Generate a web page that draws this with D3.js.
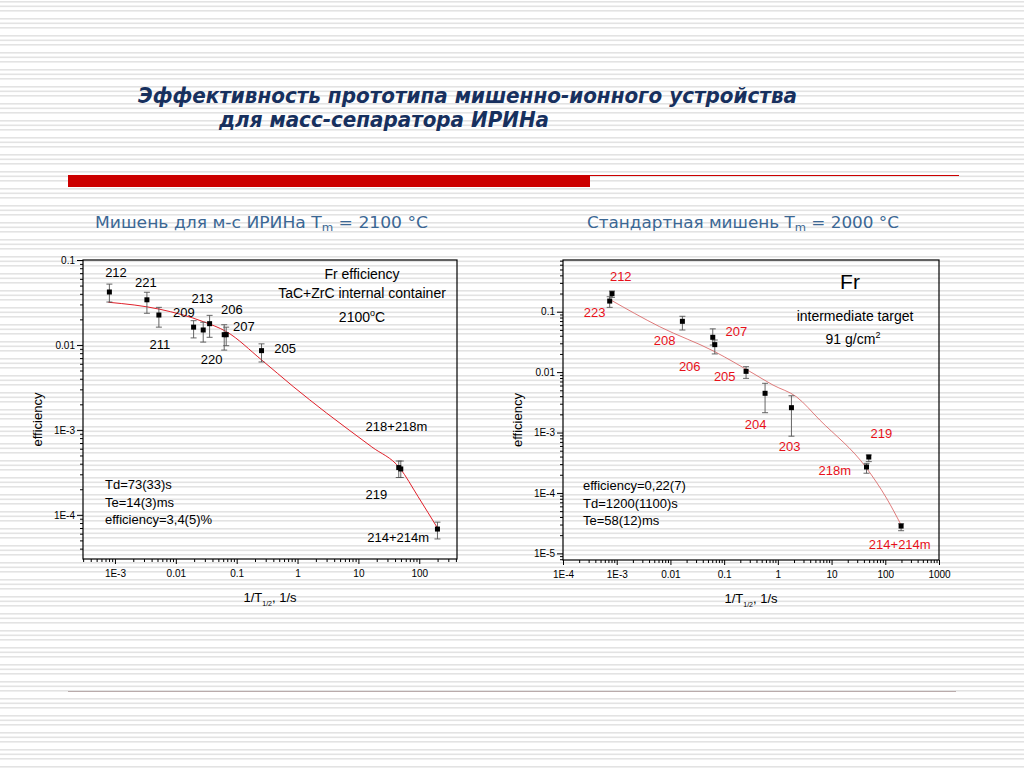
<!DOCTYPE html>
<html>
<head>
<meta charset="utf-8">
<script src="https://cdn.jsdelivr.net/npm/d3@7"></script>
<style>
  body { margin: 0; background: #fff; }
</style>
</head>
<body>
<div id="chart"></div>
<script>
// left panel: ИРИНа target, Tm = 2100 C
const leftX  = [8.1e-4, 3.35e-3, 5.27e-3, 0.0196, 0.0282, 0.0359, 0.0624, 0.0673, 0.256, 46, 49.7, 199];
const leftY  = [0.042, 0.034, 0.0225, 0.0162, 0.015, 0.0178, 0.0132, 0.0132, 0.00857, 3.6e-4, 3.47e-4, 6.8e-5];
const leftHi = [0.052, 0.0417, 0.0277, 0.0193, 0.0185, 0.0223, 0.0173, 0.0162, 0.0103, 4.3e-4, 4.3e-4, 8.2e-5];
const leftLo = [0.032, 0.0236, 0.0162, 0.0121, 0.0108, 0.0123, 0.0087, 0.0098, 0.0063, 2.75e-4, 2.75e-4, 5.2e-5];
const leftFitX = [7.8e-4, 5.48e-3, 0.0282, 0.0682, 0.256, 0.847, 2.99, 16.6, 47.9, 95.5, 199];
const leftFitY = [0.0318, 0.0263, 0.0188, 0.0143, 0.00667, 0.00324, 0.00158, 6.3e-4, 3.55e-4, 1.64e-4, 7.0e-5];
const leftLabels = ["212", "221", "213", "209", "206", "207", "211", "220", "205", "218+218m", "219", "214+214m"];
const leftLabelX = [1.04e-3, 3.23e-3, 0.0272, 0.0136, 0.0834, 0.131, 5.48e-3, 0.0387, 0.625, 42.3, 19.8, 44.9];
const leftLabelY = [0.071, 0.055, 0.0354, 0.024, 0.0263, 0.0164, 0.01, 0.00667, 0.00914, 1.09e-3, 1.72e-4, 5.4e-5];
const leftXTicks = [1e-3, 1e-2, 0.1, 1, 10, 100];
const leftYTicks = [0.1, 0.01, 1e-3, 1e-4];

// right panel: standard target, Tm = 2000 C
const rightX  = [7.4e-4, 8.17e-4, 0.0167, 0.0614, 0.0669, 0.256, 0.578, 1.79, 44.7, 49.3, 197];
const rightY  = [0.150, 0.199, 0.0693, 0.0377, 0.0285, 0.0103, 0.00446, 0.00258, 2.69e-4, 3.93e-4, 2.83e-5];
const rightHi = [0.177, 0.22, 0.084, 0.052, 0.034, 0.0123, 0.00653, 0.00406, 3.09e-4, 4.25e-4, 3.09e-5];
const rightLo = [0.118, 0.173, 0.0498, 0.0281, 0.02, 0.00788, 0.00213, 8.7e-4, 2.12e-4, 3.3e-4, 2.37e-5];
const rightFitX = [7.4e-4, 6.3e-3, 0.0669, 0.345, 0.814, 2.22, 6.03, 44.7, 105, 197];
const rightFitY = [0.16, 0.0565, 0.0218, 0.00955, 0.0061, 0.0039, 1.61e-3, 2.58e-4, 8.24e-5, 2.95e-5];
const rightLabels = ["212", "223", "208", "207", "206", "205", "204", "203", "219", "218m", "214+214m"];
const rightLabelX = [1.19e-3, 3.89e-4, 7.83e-3, 0.169, 0.0229, 0.1026, 0.387, 1.66, 84.9, 11.5, 186];
const rightLabelY = [0.39, 0.0977, 0.034, 0.0467, 0.0126, 0.0084, 1.38e-3, 5.82e-4, 9.7e-4, 2.39e-4, 1.41e-5];
const rightXTicks = [1e-4, 1e-3, 1e-2, 0.1, 1, 10, 100, 1000];
const rightYTicks = [0.1, 0.01, 1e-3, 1e-4, 1e-5];

const W = 1024, H = 768;
const font = "Liberation Sans, Arial, sans-serif";

const svg = d3.select("#chart").append("svg")
  .attr("width", W).attr("height", H);

// striped slide background
const pat = svg.append("defs").append("pattern")
  .attr("id", "stripes").attr("patternUnits", "userSpaceOnUse")
  .attr("width", 20).attr("height", 17);
pat.append("rect").attr("width", 20).attr("height", 17).attr("fill", "#fff");
[1, 5.5, 10].forEach(y => pat.append("rect")
  .attr("y", y).attr("width", 20).attr("height", 1.6).attr("fill", "#e3e3e3"));
svg.append("rect").attr("width", W).attr("height", H).attr("fill", "url(#stripes)");

// title
svg.append("text").attr("x", 138).attr("y", 103)
  .attr("textLength", 659).attr("lengthAdjust", "spacingAndGlyphs")
  .style("font", "italic bold 21px 'DejaVu Sans', sans-serif").attr("fill", "#17305e")
  .text("Эффективность прототипа мишенно-ионного устройства");
svg.append("text").attr("x", 219).attr("y", 127)
  .attr("textLength", 330).attr("lengthAdjust", "spacingAndGlyphs")
  .style("font", "italic bold 21px 'DejaVu Sans', sans-serif").attr("fill", "#17305e")
  .text("для масс-сепаратора ИРИНа");

svg.append("rect").attr("x", 68).attr("y", 175).attr("width", 522).attr("height", 12).attr("fill", "#cc0000");
svg.append("line").attr("x1", 590).attr("x2", 959).attr("y1", 175.5).attr("y2", 175.5)
  .attr("stroke", "#cc0000").attr("stroke-width", 1);
svg.append("line").attr("x1", 68).attr("x2", 956).attr("y1", 691.5).attr("y2", 691.5)
  .attr("stroke", "#b9abab").attr("stroke-width", 1.2);

// panel subtitles
function subtitle(x, len, before, after) {
  const t = svg.append("text").attr("x", x).attr("y", 228)
    .attr("textLength", len).attr("lengthAdjust", "spacingAndGlyphs")
    .style("font", "16px 'DejaVu Sans', sans-serif").attr("fill", "#3b6794");
  t.append("tspan").text(before);
  t.append("tspan").attr("dy", 3).style("font-size", "11px").text("m");
  t.append("tspan").attr("dy", -3).text(after);
}
subtitle(95, 333, "Мишень для м-с ИРИНа T", " = 2100 °C");
subtitle(587, 312, "Стандартная мишень T", " = 2000 °C");

function fmt(v) {
  const e = Math.round(Math.log10(v));
  return e >= -2 ? String(+v.toPrecision(1)) : "1E" + e;
}

function drawPanel(p) {
  const x = d3.scaleLog().domain(p.xDomain).range([p.x0, p.x1]);
  const y = d3.scaleLog().domain(p.yDomain).range([p.y1, p.y0]);
  const g = svg.append("g");
  const isMajor = v => Math.abs(Math.log10(v) - Math.round(Math.log10(v))) < 1e-6;

  // minor ticks
  g.append("g").attr("transform", `translate(${p.x0},0)`)
    .call(d3.axisLeft(y).tickValues(y.ticks().filter(v => !isMajor(v))).tickSize(3).tickFormat(""))
    .call(a => a.select(".domain").remove());
  g.append("g").attr("transform", `translate(0,${p.y1})`)
    .call(d3.axisBottom(x).tickValues(x.ticks().filter(v => !isMajor(v))).tickSize(3).tickFormat(""))
    .call(a => a.select(".domain").remove());
  // major ticks
  g.append("g").attr("transform", `translate(${p.x0},0)`)
    .call(d3.axisLeft(y).tickValues(p.yTicks).tickSize(6).tickPadding(2).tickFormat(fmt))
    .call(a => a.select(".domain").remove())
    .call(a => a.selectAll("text").style("font", `10px ${font}`).attr("fill", "#000"));
  g.append("g").attr("transform", `translate(0,${p.y1})`)
    .call(d3.axisBottom(x).tickValues(p.xTicks).tickSize(5).tickPadding(6).tickFormat(fmt))
    .call(a => a.select(".domain").remove())
    .call(a => a.selectAll("text").style("font", `10px ${font}`).attr("fill", "#000"));

  g.append("rect").attr("x", p.x0).attr("y", p.y0)
    .attr("width", p.x1 - p.x0).attr("height", p.y1 - p.y0)
    .attr("fill", "none").attr("stroke", "#000").attr("stroke-width", 1.2);

  // fit curve
  const fit = p.fitX.map((v, i) => [x(v), y(p.fitY[i])]);
  g.append("path").attr("d", d3.line().curve(d3.curveMonotoneX)(fit))
    .attr("fill", "none").attr("stroke", p.fitColor).attr("stroke-width", p.fitWidth);

  // error bars and points
  const pts = p.px.map((v, i) => ({ x: v, y: p.py[i], lo: p.lo[i], hi: p.hi[i] }));
  const eb = g.append("g").attr("stroke", "#555").attr("stroke-width", 0.9);
  pts.forEach(d => {
    eb.append("line").attr("x1", x(d.x)).attr("x2", x(d.x)).attr("y1", y(d.lo)).attr("y2", y(d.hi));
    [d.lo, d.hi].forEach(v => eb.append("line")
      .attr("x1", x(d.x) - 3).attr("x2", x(d.x) + 3).attr("y1", y(v)).attr("y2", y(v)));
  });
  g.selectAll("rect.pt").data(pts).join("rect").attr("class", "pt")
    .attr("x", d => x(d.x) - 2.5).attr("y", d => y(d.y) - 2.5)
    .attr("width", 5).attr("height", 5).attr("fill", "#000");

  // isotope labels
  g.selectAll("text.lab").data(p.labels).join("text").attr("class", "lab")
    .attr("x", (d, i) => x(p.labelX[i])).attr("y", (d, i) => y(p.labelY[i]))
    .attr("dy", "0.35em").attr("text-anchor", "middle")
    .style("font", `13px ${font}`).attr("fill", p.labelColor).text(d => d);

  // axis titles
  const cx = (p.x0 + p.x1) / 2;
  const xt = g.append("text").attr("x", cx).attr("y", p.y1 + 43).attr("text-anchor", "middle")
    .style("font", `13px ${font}`);
  xt.append("tspan").text("1/T");
  xt.append("tspan").attr("dy", 4).style("font-size", "7px").text("1/2");
  xt.append("tspan").attr("dy", -4).text(", 1/s");
  g.append("text").attr("transform", `translate(${p.yTitleX},${(p.y0 + p.y1) / 2 + 10}) rotate(-90)`)
    .attr("dy", "0.35em").attr("text-anchor", "middle").style("font", `13px ${font}`).text("efficiency");

  // parameter text block
  p.params.forEach((s, i) => g.append("text")
    .attr("x", p.paramX).attr("y", p.paramY + i * 17.5)
    .style("font", `13px ${font}`).text(s));
  return g;
}

const left = drawPanel({
  x0: 83, x1: 457, y0: 260, y1: 559,
  xDomain: [Math.pow(10, -3.525), Math.pow(10, 2.62)], yDomain: [Math.pow(10, -4.52), 0.1],
  xTicks: leftXTicks, yTicks: leftYTicks,
  px: leftX, py: leftY, lo: leftLo, hi: leftHi,
  fitX: leftFitX, fitY: leftFitY, fitColor: "#e0202a", fitWidth: 1,
  labels: leftLabels, labelX: leftLabelX, labelY: leftLabelY, labelColor: "#000",
  yTitleX: 37, paramX: 105, paramY: 489,
  params: ["Td=73(33)s", "Te=14(3)ms", "efficiency=3,4(5)%"]
});
left.append("text").attr("x", 362).attr("y", 279).attr("text-anchor", "middle")
  .style("font", `14px ${font}`).text("Fr efficiency");
left.append("text").attr("x", 362).attr("y", 298).attr("text-anchor", "middle")
  .style("font", `14px ${font}`).text("TaC+ZrC internal container");
const tc = left.append("text").attr("x", 362).attr("y", 322).attr("text-anchor", "middle")
  .style("font", `14px ${font}`);
tc.append("tspan").text("2100");
tc.append("tspan").attr("dy", -6).style("font-size", "9px").text("o");
tc.append("tspan").attr("dy", 6).text("C");

const right = drawPanel({
  x0: 563, x1: 939, y0: 260, y1: 560,
  xDomain: [1e-4, 1e3], yDomain: [Math.pow(10, -5.11), Math.pow(10, -0.144)],
  xTicks: rightXTicks, yTicks: rightYTicks,
  px: rightX, py: rightY, lo: rightLo, hi: rightHi,
  fitX: rightFitX, fitY: rightFitY, fitColor: "#d85a5a", fitWidth: 0.8,
  labels: rightLabels, labelX: rightLabelX, labelY: rightLabelY, labelColor: "#e8101a",
  yTitleX: 517, paramX: 583, paramY: 490,
  params: ["efficiency=0,22(7)", "Td=1200(1100)s", "Te=58(12)ms"]
});
right.append("text").attr("x", 850).attr("y", 289).attr("text-anchor", "middle")
  .style("font", `21px ${font}`).text("Fr");
right.append("text").attr("x", 855).attr("y", 321).attr("text-anchor", "middle")
  .style("font", `14px ${font}`).text("intermediate target");
const gc = right.append("text").attr("x", 853).attr("y", 344).attr("text-anchor", "middle")
  .style("font", `14px ${font}`);
gc.append("tspan").text("91 g/cm");
gc.append("tspan").attr("dy", -6).style("font-size", "9px").text("2");
</script>
</body>
</html>
